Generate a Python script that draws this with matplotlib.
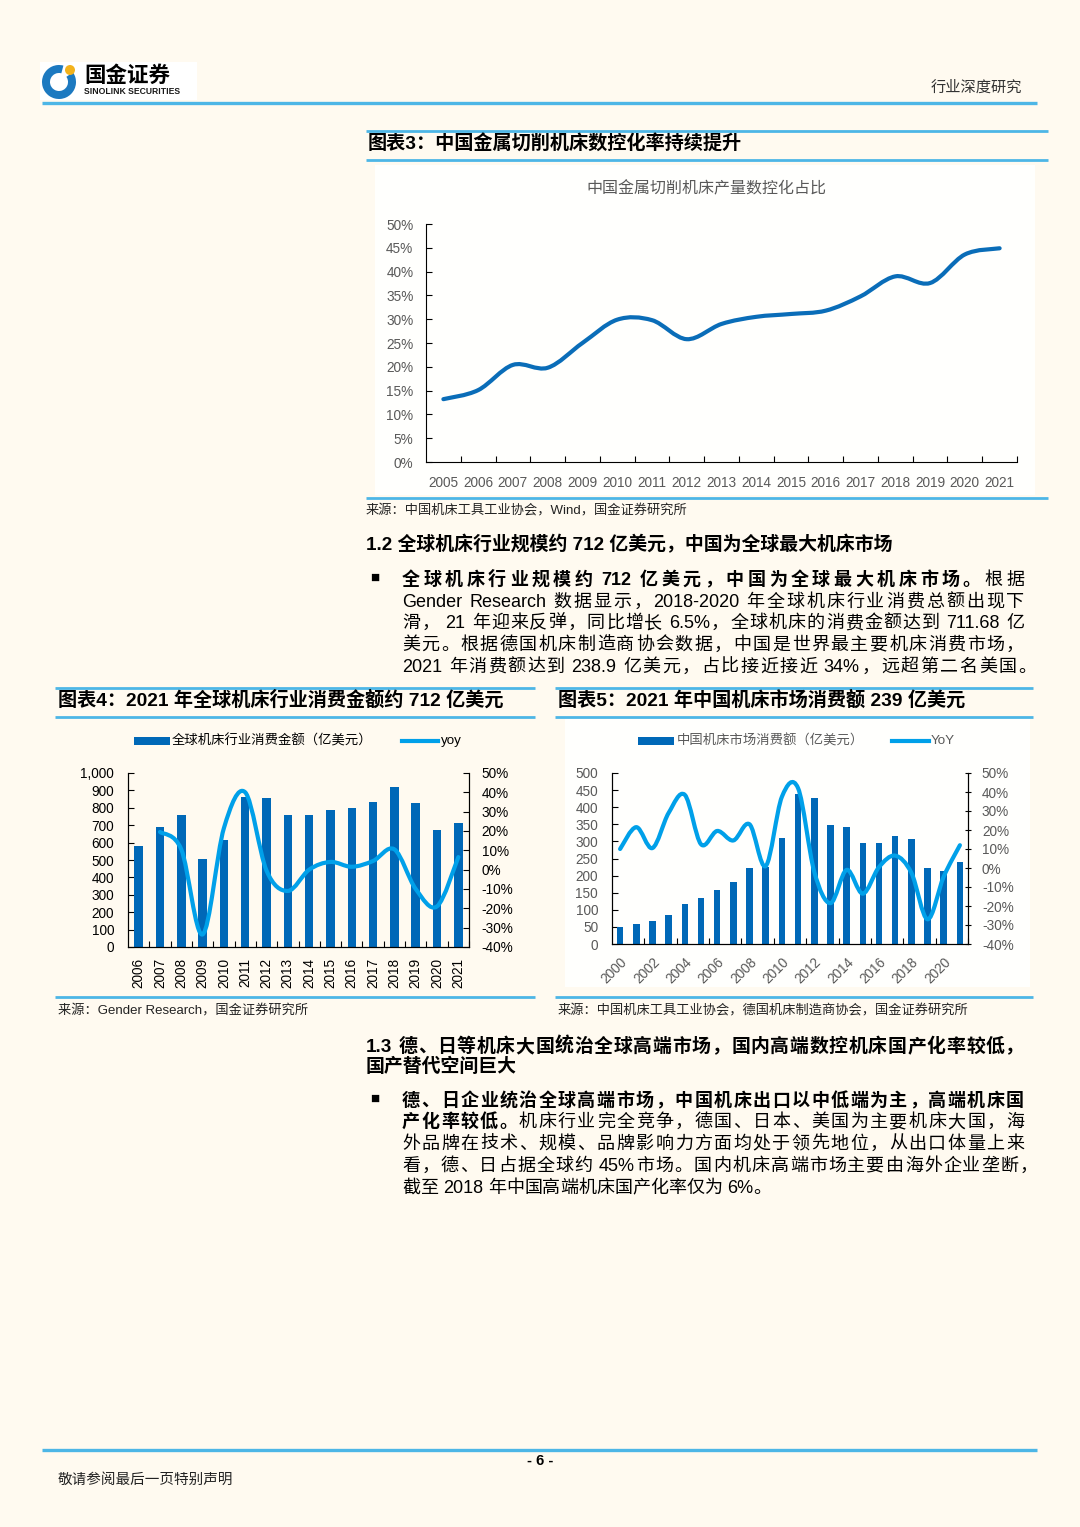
import re
import numpy as np
import matplotlib
matplotlib.use('Agg')
import matplotlib.pyplot as plt
from matplotlib.patches import Rectangle, Wedge, Circle, PathPatch
from matplotlib.path import Path
from matplotlib.font_manager import FontProperties

FAMILY = ['Liberation Sans', 'Noto Sans CJK SC', 'DejaVu Sans']
plt.rcParams['font.family'] = FAMILY

# ---- data ----
years3 = [str(y) for y in range(2005, 2022)]
nc_ratio = [13.2, 15.1, 20.4, 19.8, 25.0, 29.9, 29.8, 25.8, 29.0, 30.5, 31.1, 31.8, 34.8, 39.0, 37.6, 43.6, 44.9]

years4 = [str(y) for y in range(2006, 2022)]
global_sales = [580, 690, 760, 505, 615, 860, 855, 760, 760, 790, 800, 835, 920, 825, 670, 712]
global_yoy = [19.5, 10.5, -33.5, 21.5, 40.0, -0.5, -11.0, 0.0, 4.0, 1.5, 4.5, 10.5, -10.0, -19.0, 6.5]  # 2007-2021

years5 = [str(y) for y in range(2000, 2022)]
china_sales = [49, 59, 66, 86, 118, 134, 159, 182, 223, 226, 311, 438, 428, 349, 343, 294, 295, 315, 307, 223, 214, 239]
china_yoy = [10.0, 21.5, 10.5, 29.0, 38.5, 12.5, 19.5, 14.5, 23.0, 1.0, 37.5, 42.0, -2.0, -18.5, -1.0, -13.5, 0.5, 6.5, -2.5, -27.0, -4.5, 12.0]

# ---- colours ----
BG = '#FFFAF0'
RULE = '#4DB6E6'
BAR = '#0068B7'
LINE_LT = '#00A0E9'
LINE_DK = '#0A6DB8'
GREY = '#595959'

fig = plt.figure(figsize=(10.8, 15.27), dpi=100, facecolor=BG)
page = fig.add_axes([0, 0, 1, 1])
page.set_xlim(0, 1080)
page.set_ylim(1527, 0)
page.axis('off')
renderer = fig.canvas.get_renderer()


def axes_px(l, t, r, b):
    return fig.add_axes([l / 1080, 1 - b / 1527, (r - l) / 1080, (b - t) / 1527])


def rule(x0, x1, y, lw=2.0):
    page.plot([x0, x1], [y, y], color=RULE, lw=lw, solid_capstyle='butt')


def T(x, y, s, size, **kw):
    kw.setdefault('va', 'center')
    page.text(x, y, s, fontsize=size, **kw)


def text_w(s, size, bold):
    fp = FontProperties(family=FAMILY, size=size, weight='bold' if bold else 'normal')
    return renderer.get_text_width_height_descent(s, fp, ismath=False)[0]


def adv_w(s, size, bold):
    # advance width, measured between two ideographs
    return text_w('口' + s + '口', size, bold) - text_w('口口', size, bold)


def body_line(x0, x1, yc, runs, size, justify=True):
    em = size / 72 * 100
    words = []
    sp = False
    for s, b in runs:
        for t in re.findall(r'[A-Za-z0-9.%\-]+| |.', s):
            if t == ' ':
                sp = True
                continue
            words.append((t, b, adv_w(t, size, b), sp))
            sp = False
    base = [0.0] + [(0.28 * em if w[3] else 0.0) for w in words[1:]]
    total = sum(w[2] for w in words) + sum(base)
    extra = (x1 - x0 - total) / (len(words) - 1) if justify else 0
    x = x0
    yb = yc + 0.37 * em
    for i, (t, b, w, _) in enumerate(words):
        if i:
            x += base[i] + extra
        page.text(x, yb, t, fontsize=size, fontweight='bold' if b else 'normal',
                  va='baseline', ha='left', color='black')
        x += w


def smooth(ax, xs, ys, color, lw):
    p = np.column_stack([xs, ys]).astype(float)
    verts = [p[0]]
    codes = [Path.MOVETO]
    n = len(p)
    for i in range(n - 1):
        p0 = p[max(i - 1, 0)]
        p1 = p[i]
        p2 = p[i + 1]
        p3 = p[min(i + 2, n - 1)]
        verts += [p1 + (p2 - p0) / 6, p2 - (p3 - p1) / 6, p2]
        codes += [Path.CURVE4] * 3
    ax.add_patch(PathPatch(Path(verts, codes), fill=False, edgecolor=color, lw=lw,
                           capstyle='round', joinstyle='round', zorder=3))


# ---- header / logo ----
page.add_patch(Rectangle((40, 62), 157, 38, facecolor='white', edgecolor='none'))
page.add_patch(Wedge((59, 82), 17, -35, 285, width=8, facecolor='#1C79C0', edgecolor='none'))
page.add_patch(Circle((70, 70), 5, facecolor='#F3B21B', edgecolor='none'))
T(84, 76, '国金证券', 15.5, fontweight='bold', color='black')
T(84, 92, 'SINOLINK SECURITIES', 6.2, fontweight='bold', color='#1a1a1a')
T(1022, 88, '行业深度研究', 11, ha='right', color='#333333')
rule(42, 1037, 103, lw=2.4)

# ---- figure 3 ----
rule(366, 1048, 131)
T(368, 144, '图表3：中国金属切削机床数控化率持续提升', 13.8, fontweight='bold', color='black')
rule(366, 1048, 160)
page.add_patch(Rectangle((375, 165), 660, 330, facecolor='#FFFFFD', edgecolor='none'))
T(706, 189, '中国金属切削机床产量数控化占比', 11.5, ha='center', color=GREY)

ax3 = axes_px(426, 224, 1017, 462)
ax3.set_facecolor('none')
x3 = np.arange(len(years3))
smooth(ax3, x3, nc_ratio, LINE_DK, 3.0)
ax3.set_xlim(-0.5, len(years3) - 0.5)
ax3.set_ylim(0, 50)
ax3.set_yticks(range(0, 51, 5))
ax3.set_yticklabels([f'{v}%' for v in range(0, 51, 5)])
ax3.set_xticks(x3)
ax3.set_xticklabels(years3)
ax3.set_xticks(np.arange(0.5, len(years3), 1), minor=True)
ax3.tick_params(axis='x', which='major', length=0, pad=10, labelsize=9.8, labelcolor=GREY)
ax3.tick_params(axis='x', which='minor', length=4, direction='in', width=0.8)
ax3.tick_params(axis='y', length=4, direction='in', width=0.8, pad=9, labelsize=9.8, labelcolor=GREY)
for s in ['top', 'right']:
    ax3.spines[s].set_visible(False)
for s in ['left', 'bottom']:
    ax3.spines[s].set_linewidth(0.8)

rule(366, 1048, 498)
T(366, 511, '来源：中国机床工具工业协会，Wind，国金证券研究所', 9.5, color='#222222')

# ---- section 1.2 ----
T(366, 545, '1.2 全球机床行业规模约 712 亿美元，中国为全球最大机床市场', 13.6, fontweight='bold', color='black')
T(375, 578, '■', 11, ha='center', color='black')
size_b = 13
body_line(402, 1024, 578, [('全球机床行业规模约 712 亿美元，中国为全球最大机床市场。', True), ('根据', False)], size_b)
body_line(402, 1024, 600, [('Gender Research 数据显示，2018-2020 年全球机床行业消费总额出现下', False)], size_b)
body_line(402, 1024, 621.5, [('滑， 21 年迎来反弹，同比增长 6.5%，全球机床的消费金额达到 711.68 亿', False)], size_b)
body_line(402, 1024, 643, [('美元。根据德国机床制造商协会数据，中国是世界最主要机床消费市场，', False)], size_b)
body_line(402, 1036, 665, [('2021 年消费额达到 238.9 亿美元，占比接近接近 34%，远超第二名美国。', False)], size_b)

# ---- figure 4 ----
rule(55, 535, 688)
T(58, 700, '图表4：2021 年全球机床行业消费金额约 712 亿美元', 13.8, fontweight='bold', color='black')
rule(55, 535, 717)
page.add_patch(Rectangle((134, 737), 36, 8, facecolor=BAR, edgecolor='none'))
T(172, 741, '全球机床行业消费金额（亿美元）', 9.6, color='black')
page.plot([402, 438], [741, 741], color=LINE_LT, lw=3)
T(441, 741, 'yoy', 9.6, color='black')

ax4 = axes_px(128, 773, 469, 947)
ax4.set_facecolor('none')
x4 = np.arange(len(years4))
ax4.bar(x4, global_sales, width=0.4, color=BAR, zorder=2)
ax4.set_xlim(-0.5, len(years4) - 0.5)
ax4.set_ylim(0, 1000)
ax4.set_yticks(range(0, 1001, 100))
ax4.set_yticklabels([f'{v:,}' for v in range(0, 1001, 100)])
ax4.set_xticks(x4)
ax4.set_xticklabels(years4, rotation=90)
ax4.set_xticks(np.arange(0.5, len(years4), 1), minor=True)
ax4.tick_params(axis='x', which='major', length=0, pad=8, labelsize=9.8)
ax4.tick_params(axis='x', which='minor', length=4, direction='in', width=0.8)
ax4.tick_params(axis='y', length=4, direction='in', width=0.8, pad=10, labelsize=9.8)
ax4.spines['top'].set_visible(False)
ax4b = ax4.twinx()
smooth(ax4b, x4[1:], global_yoy, LINE_LT, 3.0)
ax4b.set_ylim(-40, 50)
ax4b.set_yticks(range(-40, 51, 10))
ax4b.set_yticklabels([f'{v}%' for v in range(-40, 51, 10)])
ax4b.tick_params(axis='y', length=4, direction='in', width=0.8, pad=9, labelsize=9.8)
for a in (ax4, ax4b):
    a.spines['top'].set_visible(False)
    for s in a.spines.values():
        s.set_linewidth(0.8)

rule(55, 535, 997)
T(58, 1011, '来源：Gender Research，国金证券研究所', 9.5, color='#222222')

# ---- figure 5 ----
rule(555, 1033, 688)
T(558, 700, '图表5：2021 年中国机床市场消费额 239 亿美元', 13.8, fontweight='bold', color='black')
rule(555, 1033, 717)
page.add_patch(Rectangle((565, 719), 465, 268, facecolor='#FFFFFD', edgecolor='none'))
page.add_patch(Rectangle((638, 737), 36, 8, facecolor=BAR, edgecolor='none'))
T(677, 741, '中国机床市场消费额（亿美元）', 9.6, color=GREY)
page.plot([892, 929], [741, 741], color=LINE_LT, lw=3)
T(931, 741, 'YoY', 9.6, color=GREY)

ax5 = axes_px(612, 773, 968, 944)
ax5.set_facecolor('none')
x5 = np.arange(len(years5))
ax5.bar(x5, china_sales, width=0.4, color=BAR, zorder=2)
ax5.set_xlim(-0.5, len(years5) - 0.5)
ax5.set_ylim(0, 500)
ax5.set_yticks(range(0, 501, 50))
ax5.set_xticks(x5[::2])
ax5.set_xticklabels(years5[::2], rotation=45, ha='right', rotation_mode='anchor')
ax5.set_xticks(np.arange(1.5, len(years5), 2), minor=True)
ax5.tick_params(axis='x', which='major', length=0, pad=8, labelsize=9.8, labelcolor=GREY)
ax5.tick_params(axis='x', which='minor', length=4, direction='in', width=0.8)
ax5.tick_params(axis='y', length=4, direction='in', width=0.8, pad=10, labelsize=9.8, labelcolor=GREY)
ax5b = ax5.twinx()
smooth(ax5b, x5, china_yoy, LINE_LT, 3.0)
ax5b.set_ylim(-40, 50)
ax5b.set_yticks(range(-40, 51, 10))
ax5b.set_yticklabels([f'{v}%' for v in range(-40, 51, 10)])
ax5b.tick_params(axis='y', length=4, direction='inout', width=0.8, pad=8, labelsize=9.8, labelcolor=GREY)
for a in (ax5, ax5b):
    a.spines['top'].set_visible(False)
    for s in a.spines.values():
        s.set_linewidth(0.8)

rule(555, 1033, 997)
T(558, 1011, '来源：中国机床工具工业协会，德国机床制造商协会，国金证券研究所', 9.5, color='#222222')

# ---- section 1.3 ----
body_line(366, 1024, 1045, [('1.3  德、日等机床大国统治全球高端市场，国内高端数控机床国产化率较低，', True)], 13.6)
T(366, 1067, '国产替代空间巨大', 13.6, fontweight='bold', color='black')
T(375, 1099, '■', 11, ha='center', color='black')
body_line(402, 1024, 1099, [('德、日企业统治全球高端市场，中国机床出口以中低端为主，高端机床国', True)], size_b)
body_line(402, 1024, 1120.5, [('产化率较低。', True), ('机床行业完全竞争，德国、日本、美国为主要机床大国，海', False)], size_b)
body_line(402, 1024, 1142, [('外品牌在技术、规模、品牌影响力方面均处于领先地位，从出口体量上来', False)], size_b)
body_line(402, 1038, 1164, [('看，德、日占据全球约 45%市场。国内机床高端市场主要由海外企业垄断，', False)], size_b)
body_line(402, 1024, 1186, [('截至 2018 年中国高端机床国产化率仅为 6%。', False)], size_b, justify=False)

# ---- footer ----
rule(42, 1037, 1450, lw=2.4)
T(540, 1461, '- 6 -', 10.5, ha='center', fontweight='bold', color='black')
T(58, 1480, '敬请参阅最后一页特别声明', 10.5, color='#222222')

fig.savefig('out.png', dpi=100, facecolor=BG)
